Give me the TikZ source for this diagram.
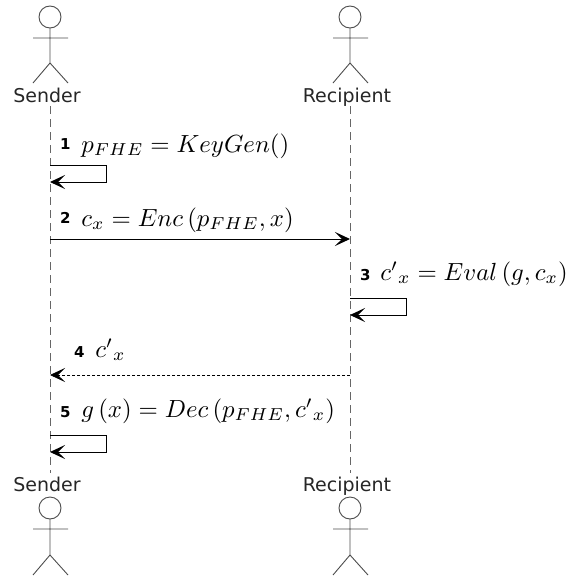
\documentclass[tikz,border=0pt]{standalone}
\usepackage{fontspec}
\newfontfamily\labelfont{DejaVu Sans}
\usetikzlibrary{arrows.meta}
\tikzset{
	person/.style={draw=black!70,line width=.9pt},
	who/.style={inner sep=0pt,anchor=base,font=\labelfont\fontsize{19}{21}\selectfont,text=black!85},
	lifeline/.style={draw=black!60,line width=.8pt,dash pattern=on 8pt off 5pt},
	msg/.style={-{Stealth[length=15pt,width=14pt,inset=7pt]},line width=1pt},
	reply/.style={-{Stealth[length=15pt,width=14pt,inset=7pt]},line width=.8pt,dash pattern=on 3pt off 2pt},
	num/.style={inner sep=0pt,font=\labelfont\fontsize{15}{17}\selectfont\bfseries,anchor=base west},
	formula/.style={inner sep=0pt,scale=2.48,transform shape,anchor=base west},
}
\newcommand{\Kp}{p_{FHE}}
\newcommand{\Cp}{{c'}_{x}}
\begin{document}
\begin{tikzpicture}[x=1pt,y=-1pt]
	\useasboundingbox (0,0) rectangle (570,576);
	% the two people at the top
	\draw[person] (50,17) circle (11);
	\draw[person] (50,28)--(50,63) (33,38)--(68,38) (33,83)--(50,63)--(68,83);
	\draw[person] (350,17) circle (11);
	\draw[person] (350,28)--(350,63) (333,38)--(368,38) (333,83)--(350,63)--(368,83);
	\node[who] (senderTop) at (47,102) {Sender};
	\node[who] (recipientTop) at (347,102) {Recipient};
	% the two people at the bottom
	\node[who] (senderBot) at (47,491) {Sender};
	\node[who] (recipientBot) at (347,491) {Recipient};
	\draw[person] (50,508) circle (11);
	\draw[person] (50,519)--(50,555) (33,529)--(68,529) (33,575)--(50,555)--(68,575);
	\draw[person] (350,508) circle (11);
	\draw[person] (350,519)--(350,555) (333,529)--(368,529) (333,575)--(350,555)--(368,575);
	% lifelines
	\coordinate (sTop) at (50,106);
	\coordinate (sBot) at (50,473);
	\coordinate (rTop) at (350,106);
	\coordinate (rBot) at (350,473);
	\draw[lifeline] (sTop)--(sBot);
	\draw[lifeline] (rTop)--(rBot);
	% messages
	\coordinate (a1) at (50,165);
	\coordinate (a2) at (50,182);
	\draw[msg] (a1)--(106,165)--(106,182)--(a2);
	\node[num] (n1) at (60,149) {1};
	\node[formula] (t1) at (81,152) {$\Kp=KeyGen()$};
	\coordinate (b1) at (50,239);
	\coordinate (b2) at (350,239);
	\draw[msg] (b1)--(b2);
	\node[num] (n2) at (60,223) {2};
	\node[formula] (t2) at (81,226) {$c_{x}=Enc\left(\Kp,x\right)$};
	\coordinate (c1) at (350,298);
	\coordinate (c2) at (350,315);
	\draw[msg] (c1)--(406,298)--(406,315)--(c2);
	\node[num] (n3) at (360,280) {3};
	\node[formula] (t3) at (380,280) {$\Cp=Eval\left(g,c_{x}\right)$};
	\coordinate (d1) at (350,375);
	\coordinate (d2) at (50,375);
	\draw[reply] (d1)--(d2);
	\node[num] (n4) at (74,357) {4};
	\node[formula] (t4) at (95,357) {$\Cp$};
	\coordinate (e1) at (50,435);
	\coordinate (e2) at (50,452);
	\draw[msg] (e1)--(106,435)--(106,452)--(e2);
	\node[num] (n5) at (60,417) {5};
	\node[formula] (t5) at (81,417) {$g\left(x\right)=Dec\left(\Kp,\Cp\right)$};
\end{tikzpicture}
\end{document}
